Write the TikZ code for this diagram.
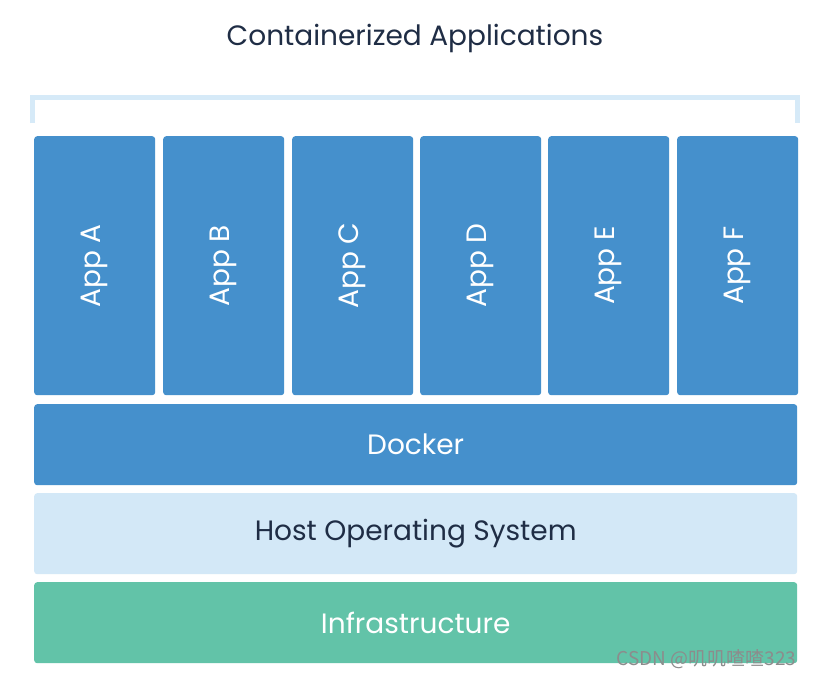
\documentclass[tikz,border=0pt]{standalone}
\usepackage{fontspec}
\setmainfont{Poppins}
\newfontfamily\cjk{Noto Sans CJK SC}
\definecolor{appblue}{HTML}{4590CC}
\definecolor{hostblue}{HTML}{D3E8F7}
\definecolor{infragreen}{HTML}{62C3A8}
\definecolor{bracketblue}{HTML}{D6EAF8}
\definecolor{navy}{HTML}{1F2D45}
\definecolor{wmgray}{HTML}{8C8C8C}
\tikzset{
  layerbox/.style={draw=none, rounded corners=3pt, inner sep=0pt, anchor=north west},
  appbox/.style={layerbox, fill=appblue, minimum width=121pt, minimum height=259pt},
  wide/.style={layerbox, minimum width=763pt, minimum height=81pt},
  lbl/.style={font=\fontsize{28}{32}\selectfont},
}
\begin{document}
\begin{tikzpicture}[x=1pt,y=-1pt]
\useasboundingbox (0,0) rectangle (815,678);
\fill[white] (0,0) rectangle (815,678);
\node[text=navy, font=\fontsize{28}{32}\selectfont] (title) at (415,38) {Containerized Applications};
\draw[bracketblue, line width=5pt] (32.5,123) -- (32.5,97.5) -- (797.5,97.5) -- (797.5,123);
\foreach \n/\x/\t in {a/34/A, b/163/B, c/292/C, d/420/D, e/548/E, f/677/F}{
  \node[appbox] (app\n) at (\x,136) {};
  \node[text=white, rotate=90, lbl] (t\n) at (app\n.center) {App \t};
}
\node[wide, fill=appblue] (docker) at (34,404) {};
\node[text=white, lbl] (tdocker) at (docker.center) {Docker};
\node[wide, fill=hostblue] (host) at (34,493) {};
\node[text=navy, lbl] (thost) at (host.center) {Host Operating System};
\node[wide, fill=infragreen, minimum height=81pt] (infra) at (34,582) {};
\node[text=white, lbl] (tinfra) at (infra.center) {Infrastructure};
\node[text=wmgray, font=\cjk\fontsize{19}{21}\selectfont, anchor=east] (wm) at (800,659) {CSDN @叽叽喳喳323};
\end{tikzpicture}
\end{document}
